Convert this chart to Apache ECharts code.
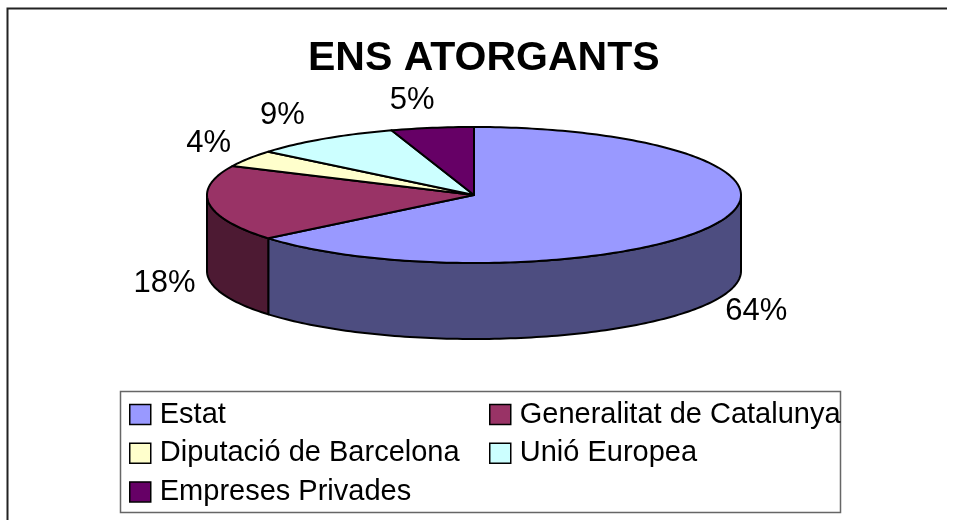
<!DOCTYPE html>
<html><head><meta charset="utf-8">
<script src="https://cdn.jsdelivr.net/npm/echarts@6/dist/echarts.min.js"></script>
<style>html,body{margin:0;padding:0;background:#fff}#c{width:954px;height:520px}</style>
</head><body><div id="c"></div>
<script>
const chartTitle = 'ENS ATORGANTS';
const categories = ['Estat', 'Generalitat de Catalunya', 'Diputació de Barcelona', 'Unió Europea', 'Empreses Privades'];
const values = [64, 18, 4, 9, 5];

const colors = ['#9999FF', '#993366', '#FFFFCC', '#CCFFFF', '#660066'];
function darken(hex, f) {
  const n = parseInt(hex.slice(1), 16);
  const r = Math.round(((n >> 16) & 255) * f), g = Math.round(((n >> 8) & 255) * f), b = Math.round((n & 255) * f);
  return 'rgb(' + r + ',' + g + ',' + b + ')';
}
const FONT = 'Liberation Sans, Arial, sans-serif';
// layout of the 3D pie
const CX = 474, CY = 195, RX = 267, RY = 68, DEPTH = 76;

const total = values.reduce((a, b) => a + b, 0);

function makeRender(idx) {
  return function (params, api) {
    let before = 0;
    for (let j = 0; j < idx; j++) before += values[j];
    const a0 = before / total * 2 * Math.PI;
    const a1 = (before + values[idx]) / total * 2 * Math.PI;
    const P = (a, dy) => [CX + RX * Math.sin(a), CY - RY * Math.cos(a) + (dy || 0)];
    const arc = (s, e, dy) => {
      const n = Math.max(2, Math.ceil((e - s) / 0.02));
      const pts = [];
      for (let k = 0; k <= n; k++) pts.push(P(s + (e - s) * k / n, dy));
      return pts;
    };
    const children = [];
    const s0 = Math.max(a0, Math.PI / 2), s1 = Math.min(a1, 1.5 * Math.PI);
    if (s1 > s0) {
      const top = arc(s0, s1, 0), bot = arc(s0, s1, DEPTH).reverse();
      children.push({
        type: 'polygon', z2: 10,
        shape: { points: top.concat(bot) },
        style: { fill: darken(colors[idx], 0.5), stroke: '#000', lineWidth: 2, lineJoin: 'round' }
      });
    }
    children.push({
      type: 'polygon', z2: 20,
      shape: { points: [[CX, CY]].concat(arc(a0, a1, 0)) },
      style: { fill: colors[idx], stroke: '#000', lineWidth: 2, lineJoin: 'round' }
    });
    const m = (a0 + a1) / 2, s = Math.sin(m), c = Math.cos(m);
    const lx = CX + s * (RX + 45 + 90 * Math.pow(Math.max(0, c), 6));
    const ly = CY - c * (RY + 28) + (c < 0 ? DEPTH : 0);
    children.push({
      type: 'text', z2: 30, x: lx, y: ly,
      style: {
        text: Math.round(values[idx] / total * 100) + '%',
        align: 'center', verticalAlign: 'middle',
        fontSize: 31, fontFamily: FONT, fill: '#000'
      }
    });
    return { type: 'group', children: children };
  };
}

const series = categories.map((name, i) => ({
  type: 'custom',
  name: name,
  coordinateSystem: 'none',
  itemStyle: { color: colors[i] },
  renderItem: makeRender(i),
  data: [values[i]],
  silent: true
}));

const legendCommon = {
  orient: 'vertical', padding: 0, itemWidth: 21, itemHeight: 20, itemGap: 9.7,
  height: 200,
  icon: 'rect', selectedMode: false,
  itemStyle: { borderColor: '#000', borderWidth: 1.5 },
  textStyle: { fontSize: 29, fontFamily: FONT, color: '#000', padding: [0, 0, 0, 4] }
};

const chart = echarts.init(document.getElementById('c'), null, { renderer: 'canvas' });
chart.setOption({
  animation: false,
  backgroundColor: '#fff',
  title: {
    text: chartTitle, left: 308, top: 38, padding: 0,
    textStyle: { fontSize: 41, fontWeight: 'bold', fontFamily: FONT, color: '#000' }
  },
  legend: [
    Object.assign({}, legendCommon, { left: 129, top: 400, data: [categories[0], categories[2], categories[4]] }),
    Object.assign({}, legendCommon, { left: 489, top: 400, data: [categories[1], categories[3]] })
  ],
  graphic: [
    { type: 'polyline', silent: true, shape: { points: [[7.5, 522], [7.5, 8.5], [947, 8.5]] }, style: { stroke: '#222', lineWidth: 2, fill: null } },
    { type: 'rect', silent: true, shape: { x: 120.5, y: 391.5, width: 720, height: 121 }, style: { stroke: '#666', lineWidth: 1.5, fill: null } }
  ],
  series: series
});
</script>
</body></html>
